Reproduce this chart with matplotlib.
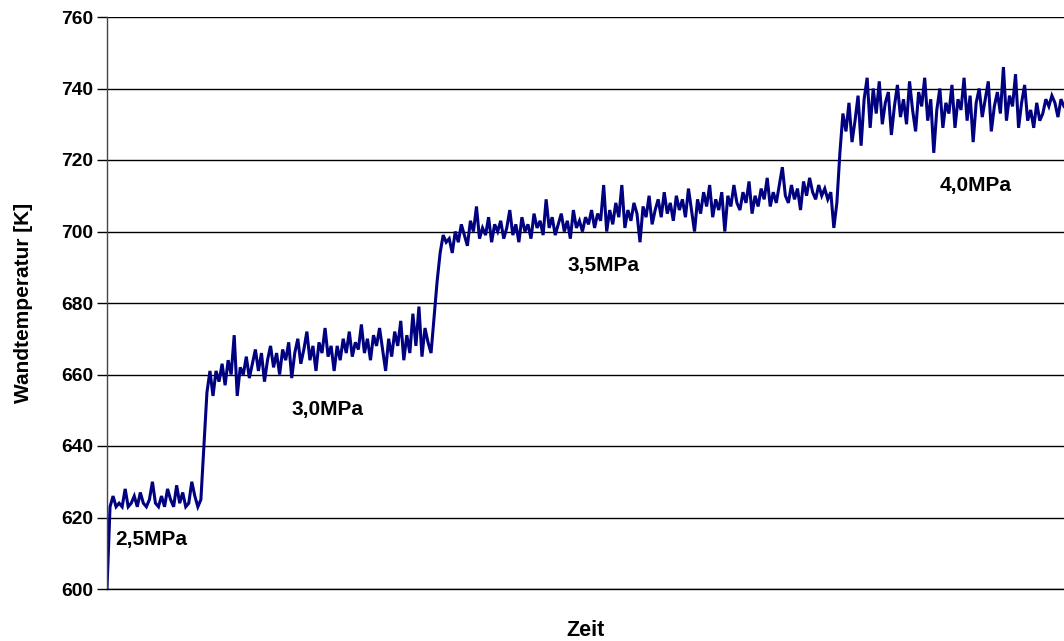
import numpy as np
import matplotlib
matplotlib.use("Agg")
import matplotlib.pyplot as plt

# Wall temperature record [K], one list per pressure stage (incl. the transition ramp)
stage_25 = [600, 623, 626, 623, 624, 623, 628, 623, 624, 626, 623, 627, 624, 623,
            625, 630, 624, 623, 626, 623, 628, 625, 623, 629, 624, 627, 623, 624,
            630, 626, 623, 625, 640, 655, 661, 654]
stage_30 = [661, 658, 663, 657, 664, 660, 671, 654, 662, 660,
            665, 659, 663, 667, 661, 666, 658, 664, 668, 662, 666, 660, 667,
            664, 669, 659, 666, 670, 663, 667, 672, 664, 668, 661, 669, 666, 673, 665, 668,
            661, 668, 664, 670, 666, 672, 665, 669, 667, 674, 666, 670, 664, 671, 668, 673,
            667, 661, 670, 665, 672, 668, 675, 664, 671, 666, 677, 668, 679, 665, 673, 669, 666,
            676, 686, 694, 699, 697]
stage_35 = [698, 694, 700, 697, 702, 699, 696, 703, 700, 707, 698, 701, 699, 704, 697, 702,
            700, 703, 698, 701, 706, 699, 702, 697, 704, 700, 702, 698, 705, 701, 703, 699,
            709, 701, 704, 699, 702, 705, 700, 703, 698, 706, 701, 703, 700, 704, 702, 706,
            701, 705, 703, 713, 700, 706, 702, 708, 704, 713, 701, 706, 703, 708, 705, 697,
            707, 704, 710, 702, 706, 709, 704, 711, 705, 708, 703, 710, 706, 709, 704, 712,
            706, 700, 709, 705, 711, 707, 713, 704, 709, 706, 711, 700, 710, 707, 713, 708,
            706, 711, 708, 714, 705, 710, 707, 712, 709, 715, 707, 711, 708, 713, 718, 710,
            708, 713, 709, 712, 706, 714, 710, 715, 711, 709, 713, 710, 712, 709, 711, 701,
            708, 722, 733, 728, 736, 725]
stage_40 = [731, 738, 724, 737, 743, 729, 740, 733, 742, 730, 736, 739, 727, 735, 741, 732,
            737, 730, 742, 734, 728, 739, 735, 743, 731, 737, 722, 734, 740, 729, 736, 733,
            741, 729, 737, 734, 743, 731, 738, 725, 736, 740, 732, 737, 742, 728, 735, 739,
            733, 746, 731, 738, 735, 744, 729, 736, 741, 731, 734, 729, 736, 731, 733, 737,
            735, 738, 736, 732, 737, 735]

stage_labels = ["2,5MPa", "3,0MPa", "3,5MPa", "4,0MPa"]
y_ticks = [600, 620, 640, 660, 680, 700, 720, 740, 760]

temperature = np.array(stage_25 + stage_30 + stage_35 + stage_40, dtype=float)
t = np.arange(len(temperature))

plt.rcParams["font.family"] = ["Liberation Sans", "DejaVu Sans"]
plt.rcParams["font.weight"] = "bold"

fig = plt.figure(figsize=(10.64, 6.41), dpi=100)
ax = fig.add_axes([107 / 1064, 1 - 589 / 641, 1 - 107 / 1064, (589 - 17) / 641])

ax.plot(t, temperature, color="#000080", lw=2.2, solid_joinstyle="miter")

ax.set_xlim(0, len(temperature) - 1)
ax.set_ylim(600, 760)
ax.set_yticks(y_ticks)
ax.set_yticklabels([str(v) for v in y_ticks], fontsize=13.8, fontweight="bold")
ax.set_xticks([])
ax.yaxis.grid(True, color="black", lw=1.0)
ax.set_axisbelow(True)
ax.tick_params(axis="y", direction="out", length=7, width=1, pad=3, colors="black")

for side in ("top", "right"):
    ax.spines[side].set_visible(False)
ax.spines["bottom"].set_color("black")
ax.spines["bottom"].set_linewidth(1.0)
ax.spines["left"].set_color("#444444")
ax.spines["left"].set_linewidth(1.0)

ax.set_ylabel("Wandtemperatur [K]", fontsize=15, fontweight="bold", labelpad=20)
ax.set_xlabel("Zeit", fontsize=15.5, fontweight="bold", labelpad=22)

# Stage annotations
label_pos = [(115, 540), (292, 410), (568, 266), (940, 185)]
for text, (px, py) in zip(stage_labels, label_pos):
    ax.text((px - 107) / 957, (589 - py) / 572, text, transform=ax.transAxes,
            fontsize=15, fontweight="bold", ha="left", va="center")

fig.savefig("out.png", dpi=100)
